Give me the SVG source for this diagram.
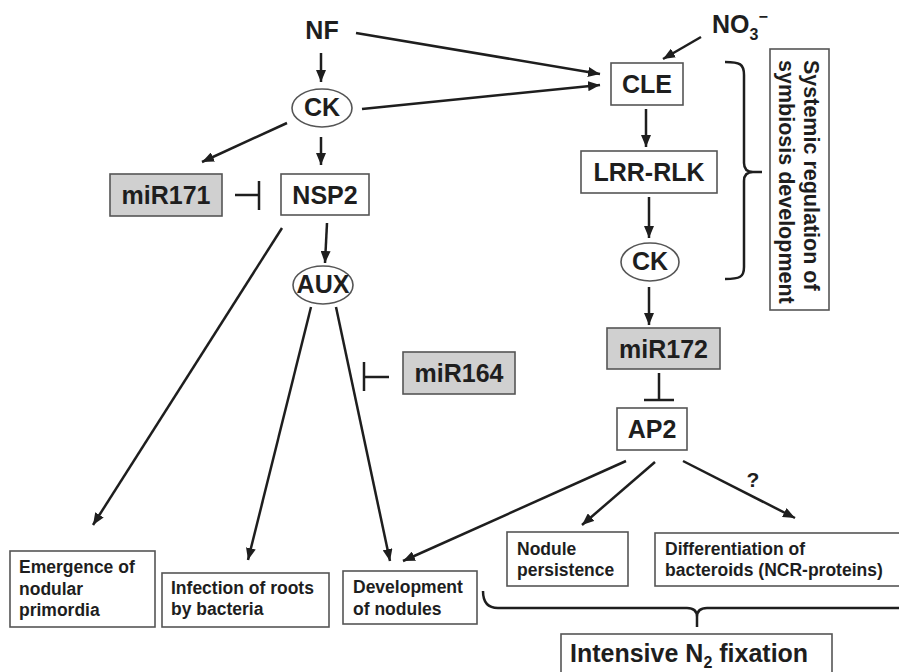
<svg xmlns="http://www.w3.org/2000/svg" width="899" height="672" viewBox="0 0 899 672">
<style>
text{font-family:"Liberation Sans",Arial,sans-serif;font-weight:bold;fill:#1e1e1e}
.n{font-size:25px;text-anchor:middle}
.s{font-size:17.5px}
.box{fill:#fff;stroke:#555;stroke-width:1.6}
.gray{fill:#d0d0d0;stroke:#555;stroke-width:1.6}
.c{fill:none;stroke:#1e1e1e;stroke-width:2.5}
.a{marker-end:url(#ah)}
</style>
<defs>
<marker id="ah" markerUnits="userSpaceOnUse" markerWidth="13" markerHeight="10" refX="12" refY="5" orient="auto">
<path d="M0,0 L12,5 L0,10 z" fill="#1e1e1e"/>
</marker>
</defs>
<rect width="899" height="672" fill="#fff"/>

<g id="connectors">
<line class="c a" x1="321" y1="53" x2="321" y2="82"/>
<line class="c a" x1="321" y1="137" x2="321" y2="165"/>
<line class="c a" x1="287" y1="123" x2="202" y2="162"/>
<line class="c" x1="235" y1="195" x2="259" y2="195"/>
<line class="c" x1="259" y1="181" x2="259" y2="210"/>
<line class="c a" x1="327" y1="223" x2="325" y2="263"/>
<line class="c a" x1="282" y1="228" x2="93" y2="525"/>
<line class="c a" x1="311" y1="307" x2="248" y2="560"/>
<line class="c a" x1="336" y1="307" x2="390" y2="561"/>
<line class="c" x1="389" y1="377" x2="364" y2="377"/>
<line class="c" x1="364" y1="362" x2="364" y2="391"/>
<line class="c a" x1="356" y1="33" x2="600" y2="74"/>
<line class="c a" x1="362" y1="109" x2="600" y2="85"/>
<line class="c a" x1="701" y1="37" x2="663" y2="59"/>
<line class="c a" x1="646" y1="109" x2="646" y2="147"/>
<line class="c a" x1="649" y1="197" x2="649" y2="238"/>
<line class="c a" x1="649" y1="287" x2="649" y2="325"/>
<line class="c" x1="659" y1="373" x2="659" y2="400"/>
<line class="c" x1="644" y1="400" x2="674" y2="400"/>
<line class="c a" x1="626" y1="461" x2="403" y2="561"/>
<line class="c a" x1="655" y1="462" x2="582" y2="525"/>
<line class="c a" x1="683" y1="461" x2="795" y2="518"/>
<text x="753" y="487" font-size="21" text-anchor="middle">?</text>
<path class="c" d="M725,62 C740,62 744,64 744,75 L744,163 Q744,172 753,172 L762,172 M753,172 Q744,172 744,181 L744,267 C744,277 740,279 725,279"/>
<path class="c" d="M483,591 Q483,608 498,608 L687,608 Q697,608 697,617 L697,627 M697,617 Q697,608 707,608 L899,608"/>
</g>

<g id="NF"><text class="n" x="322" y="39">NF</text></g>
<g id="NO3"><text x="712" y="33" font-size="25">NO<tspan font-size="16" dy="7">3</tspan><tspan font-size="16" dy="-18">−</tspan></text></g>
<g id="CK1"><ellipse cx="322" cy="108" rx="30" ry="19" class="box"/><text class="n" x="322" y="116" font-size="23">CK</text></g>
<g id="miR171"><rect x="110" y="174" width="112" height="42" class="gray"/><text class="n" x="166" y="204">miR171</text></g>
<g id="NSP2"><rect x="281" y="174" width="88" height="41" class="box"/><text class="n" x="325" y="203.5">NSP2</text></g>
<g id="AUX"><ellipse cx="323" cy="285" rx="30" ry="19" class="box"/><text class="n" x="323" y="293" font-size="23">AUX</text></g>
<g id="miR164"><rect x="403" y="352" width="112" height="42" class="gray"/><text class="n" x="459" y="382">miR164</text></g>
<g id="CLE"><rect x="611" y="63" width="72" height="42" class="box"/><text class="n" x="647" y="93">CLE</text></g>
<g id="LRR-RLK"><rect x="581" y="151" width="136" height="42" class="box"/><text class="n" x="649" y="181">LRR-RLK</text></g>
<g id="CK2"><ellipse cx="650" cy="262" rx="29" ry="19" class="box"/><text class="n" x="650" y="270" font-size="23">CK</text></g>
<g id="miR172"><rect x="607" y="328" width="113" height="41" class="gray"/><text class="n" x="663.5" y="357.5">miR172</text></g>
<g id="AP2"><rect x="617" y="408" width="70" height="42" class="box"/><text class="n" x="652" y="438">AP2</text></g>
<g id="systemic"><rect x="770" y="49" width="59" height="261" class="box"/>
<text font-size="21.5" transform="translate(804,60) rotate(90)">Systemic regulation of</text>
<text font-size="21.5" transform="translate(779,60) rotate(90)">symbiosis development</text></g>
<g id="emergence"><rect x="10" y="551" width="145" height="76" class="box"/><text class="s" x="19" y="573">Emergence of</text><text class="s" x="19" y="595">nodular</text><text class="s" x="19" y="616">primordia</text></g>
<g id="infection"><rect x="162" y="573" width="167" height="54" class="box"/><text class="s" x="171" y="594">Infection of roots</text><text class="s" x="171" y="615">by bacteria</text></g>
<g id="development"><rect x="343" y="571" width="134" height="53" class="box"/><text class="s" x="353" y="593">Development</text><text class="s" x="353" y="615">of nodules</text></g>
<g id="persistence"><rect x="507" y="532" width="121" height="54" class="box"/><text class="s" x="517" y="555">Nodule</text><text class="s" x="517" y="576">persistence</text></g>
<g id="differentiation"><rect x="655" y="533" width="250" height="53" class="box"/><text class="s" x="665" y="555">Differentiation of</text><text class="s" x="665" y="576">bacteroids (NCR-proteins)</text></g>
<g id="fixation"><rect x="561" y="634" width="271" height="50" class="box"/><text x="570" y="662" font-size="25">Intensive N<tspan font-size="16" dy="6">2</tspan><tspan dy="-6"> fixation</tspan></text></g>
</svg>
